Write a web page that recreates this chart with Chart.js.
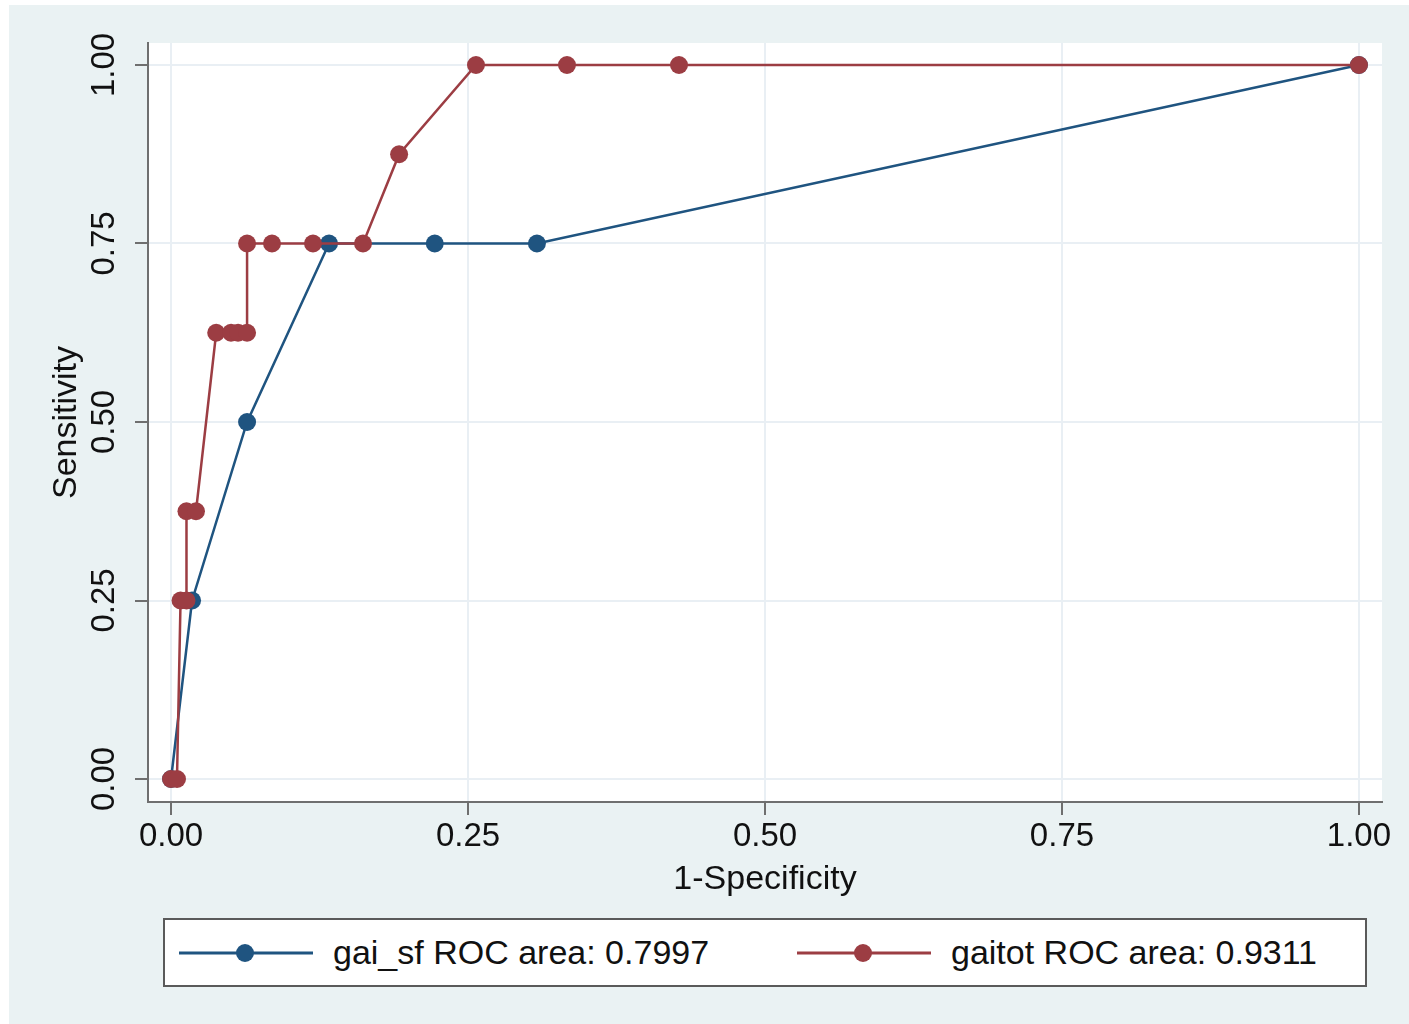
<!DOCTYPE html>
<html lang="en">
<head>
    <meta charset="UTF-8">
    <title>ROC curves: gai_sf vs gaitot</title>
    <script src="https://cdn.jsdelivr.net/npm/chart.js"></script>
    <style>
        html, body { margin: 0; padding: 0; background: #ffffff; }
        body { width: 1409px; height: 1024px; position: relative; overflow: hidden;
               font-family: 'Liberation Sans', Arial, Helvetica, sans-serif; }
        .graph-region {
            position: absolute; left: 9px; top: 5px; right: 0; bottom: 0;
            background: #eaf2f3;
        }
        #rocChart { position: absolute; left: 0; top: 0; }
        .roc-legend {
            position: absolute; left: 163px; top: 918px; width: 1204px; height: 69px;
            box-sizing: border-box; border: 2px solid #5a5a5a; background: #fff;
        }
        .legend-item { position: absolute; top: 0; height: 65px; display: flex; align-items: center; }
        .legend-item svg { display: block; }
        .legend-item span { font-size: 34px; color: #111; margin-left: 19px; white-space: nowrap; }
    </style>
</head>
<body>
    <div class="graph-region"></div>
    <canvas id="rocChart" width="1409" height="1024"></canvas>
    <div class="roc-legend" id="rocLegend"></div>

    <script>
        // 1-specificity / sensitivity pairs for each classifier
        const gaiSfX = [0, 0.0177, 0.064, 0.133, 0.222, 0.308, 1];
        const gaiSfY = [0, 0.25, 0.5, 0.75, 0.75, 0.75, 1];

        const gaitotX = [0, 0.005, 0.008, 0.013, 0.013, 0.021, 0.038, 0.0505, 0.0564, 0.064, 0.064, 0.085, 0.1195, 0.1616, 0.192, 0.2567, 0.3333, 0.4276, 1];
        const gaitotY = [0, 0, 0.25, 0.25, 0.375, 0.375, 0.625, 0.625, 0.625, 0.625, 0.75, 0.75, 0.75, 0.75, 0.875, 1, 1, 1, 1];

        const seriesLabels = ['gai_sf ROC area: 0.7997', 'gaitot ROC area: 0.9311'];
        const xTicks = [0, 0.25, 0.5, 0.75, 1];
        const yTicks = [0, 0.25, 0.5, 0.75, 1];

        const navy = '#1f5480';
        const maroon = '#9c3d43';
        const fontFamily = "'Liberation Sans', Arial, Helvetica, sans-serif";

        const toPoints = (xs, ys) => xs.map((x, i) => ({ x: x, y: ys[i] }));

        // white plot region + rotated y labels + axis titles
        const stataLook = {
            id: 'stataLook',
            beforeDraw(chart) {
                const { ctx, chartArea } = chart;
                ctx.save();
                ctx.fillStyle = '#ffffff';
                ctx.fillRect(chartArea.left, chartArea.top, chartArea.right - chartArea.left, chartArea.bottom - chartArea.top);
                ctx.restore();
            },
            afterDraw(chart) {
                const { ctx, chartArea } = chart;
                const xs = chart.scales.x, ys = chart.scales.y;
                ctx.save();
                ctx.fillStyle = '#111';
                ctx.textAlign = 'center';
                ctx.textBaseline = 'middle';

                ctx.font = '33px ' + fontFamily;
                xTicks.forEach(v => ctx.fillText(v.toFixed(2), xs.getPixelForValue(v), 837));
                yTicks.forEach(v => {
                    ctx.save();
                    ctx.translate(105, ys.getPixelForValue(v));
                    ctx.rotate(-Math.PI / 2);
                    ctx.fillText(v.toFixed(2), 0, 0);
                    ctx.restore();
                });

                ctx.font = '34px ' + fontFamily;
                ctx.fillText('1-Specificity', (chartArea.left + chartArea.right) / 2, 880);
                ctx.save();
                ctx.translate(67, (chartArea.top + chartArea.bottom) / 2);
                ctx.rotate(-Math.PI / 2);
                ctx.fillText('Sensitivity', 0, 0);
                ctx.restore();
                ctx.restore();
            }
        };

        const axisCommon = {
            type: 'linear',
            grid: {
                color: '#e9eff4', lineWidth: 2,
                drawTicks: true, tickLength: 13, tickColor: '#6f6f6f', tickWidth: 2
            },
            border: { display: true, color: '#6f6f6f', width: 2 },
            ticks: { display: false }
        };

        new Chart(document.getElementById('rocChart'), {
            type: 'line',
            data: {
                datasets: [
                    {
                        label: seriesLabels[0],
                        data: toPoints(gaiSfX, gaiSfY),
                        borderColor: navy, backgroundColor: navy,
                        borderWidth: 2.5, pointRadius: 9, pointBorderWidth: 0,
                        tension: 0, order: 2
                    },
                    {
                        label: seriesLabels[1],
                        data: toPoints(gaitotX, gaitotY),
                        borderColor: maroon, backgroundColor: maroon,
                        borderWidth: 2.5, pointRadius: 9, pointBorderWidth: 0,
                        tension: 0, order: 1
                    }
                ]
            },
            options: {
                responsive: false, animation: false,
                layout: { padding: { left: 0, top: 43, right: 27, bottom: 0 } },
                scales: {
                    x: Object.assign({}, axisCommon, {
                        min: -0.0194, max: 1.0194,
                        afterBuildTicks: s => { s.ticks = xTicks.map(v => ({ value: v })); },
                        afterFit: s => { s.height = 222; }
                    }),
                    y: Object.assign({}, axisCommon, {
                        min: -0.0322, max: 1.0308,
                        afterBuildTicks: s => { s.ticks = yTicks.map(v => ({ value: v })); },
                        afterFit: s => { s.width = 148; }
                    })
                },
                plugins: { legend: { display: false }, tooltip: { enabled: false } }
            },
            plugins: [stataLook]
        });

        // legend: line with a dot, then the label
        const legendBox = document.getElementById('rocLegend');
        [[navy, 13], [maroon, 631]].forEach(([col, left], i) => {
            const item = document.createElement('div');
            item.className = 'legend-item';
            item.style.left = left + 'px';
            item.innerHTML = '<svg width="136" height="24"><line x1="1" y1="12" x2="135" y2="12" stroke="' + col +
                '" stroke-width="3"/><circle cx="67" cy="12" r="9" fill="' + col + '"/></svg><span>' + seriesLabels[i] + '</span>';
            legendBox.appendChild(item);
        });
    </script>
</body>
</html>
